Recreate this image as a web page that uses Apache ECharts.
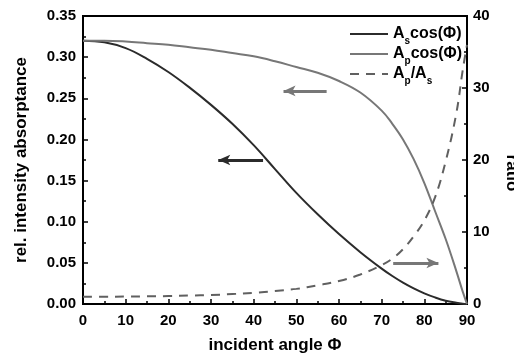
<!DOCTYPE html>
<html>
<head>
<meta charset="utf-8">
<script src="https://cdn.jsdelivr.net/npm/echarts@6/dist/echarts.min.js"></script>
<style>
  html, body { margin: 0; padding: 0; background: #fff; }
  #chart { width: 514px; height: 354px; }
</style>
</head>
<body>
<div id="chart"></div>
<script>
// incident angle (degrees)
const angles = [0, 5, 10, 15, 20, 25, 30, 35, 40, 45, 50, 55, 60, 65, 70, 72.5, 75, 77.5, 80, 82.5, 85, 87.5, 89, 90];
// relative intensity absorptance, s-polarisation
const asCos = [0.320, 0.318, 0.311, 0.298, 0.282, 0.263, 0.242, 0.219, 0.193, 0.164, 0.135, 0.109, 0.085, 0.063, 0.043, 0.034, 0.026, 0.019, 0.013, 0.008, 0.004, 0.0015, 0.0004, 0];
// relative intensity absorptance, p-polarisation
const apCos = [0.320, 0.320, 0.319, 0.317, 0.315, 0.312, 0.309, 0.305, 0.301, 0.295, 0.288, 0.281, 0.271, 0.257, 0.235, 0.219, 0.200, 0.176, 0.147, 0.113, 0.079, 0.040, 0.015, 0];
// ratio Ap/As
const ratio = [1.0, 1.0, 1.03, 1.06, 1.1, 1.17, 1.25, 1.38, 1.55, 1.8, 2.1, 2.6, 3.2, 4.1, 5.4, 6.3, 7.6, 9.4, 11.6, 14.8, 19.8, 26.5, 32.5, 36];

const pairs = (ys) => angles.map((a, i) => [a, ys[i]]);

// arrows telling which axis each curve belongs to: [fromX, toX, y]
const arrowAs = [42.2, 31.7, 0.175];
const arrowAp = [57.1, 47.0, 0.259];
const arrowRatio = [72.7, 83.3, 5.7];

const font = 'Liberation Sans, Arial, sans-serif';
const DARK = '#2b2b2b', GRAY = '#777777', DASH = '#606060';

function arrow(a, color) {
  return {
    silent: true,
    animation: false,
    symbol: ['none', 'arrow'],
    symbolSize: [8, 12],
    label: { show: false },
    lineStyle: { color: color, width: 3, type: 'solid' },
    emphasis: { disabled: true },
    data: [[{ coord: [a[0], a[2]] }, { coord: [a[1], a[2]] }]]
  };
}

const chart = echarts.init(document.getElementById('chart'), null, { renderer: 'canvas' });

const axisCommon = {
  axisLine: { show: true, lineStyle: { color: '#000', width: 2 } },
  axisTick: { show: true, inside: true, length: 5, lineStyle: { color: '#000', width: 1.5 } },
  minorTick: { show: true, splitNumber: 2, length: 3, lineStyle: { color: '#000', width: 1.5 } },
  splitLine: { show: false },
  axisLabel: { color: '#000', fontWeight: 'bold', fontSize: 15, fontFamily: font },
  nameTextStyle: { color: '#000', fontWeight: 'bold', fontSize: 17, fontFamily: font }
};

chart.setOption({
  backgroundColor: '#fff',
  animation: false,
  grid: {
    left: 83, right: 47, top: 16, bottom: 50,
    outerBoundsMode: 'none', containLabel: false,
    show: true, borderColor: '#000', borderWidth: 2, backgroundColor: 'transparent'
  },
  legend: {
    orient: 'vertical',
    left: 344,
    top: 21,
    itemWidth: 38,
    itemHeight: 12,
    itemGap: 0,
    itemStyle: { color: 'rgba(0,0,0,0)', borderColor: 'rgba(0,0,0,0)', borderWidth: 0 },
    data: ['as', 'ap', 'ratio'],
    formatter: function (name) {
      if (name === 'as') return '{m|A}{s|s}{m|cos(Φ)}';
      if (name === 'ap') return '{m|A}{s|p}{m|cos(Φ)}';
      return '{m|A}{s|p}{m|/A}{s|s}';
    },
    textStyle: {
      color: '#000',
      fontFamily: font,
      rich: {
        m: { fontSize: 16, fontWeight: 'bold', fontFamily: font, color: '#000', lineHeight: 24 },
        s: { fontSize: 10, fontWeight: 'bold', fontFamily: font, color: '#000', lineHeight: 10, verticalAlign: 'bottom' }
      }
    }
  },
  xAxis: Object.assign({}, axisCommon, {
    type: 'value', min: 0, max: 90, interval: 10,
    name: 'incident angle Φ', nameLocation: 'middle', nameGap: 33,
    axisLabel: Object.assign({}, axisCommon.axisLabel, { margin: 9 })
  }),
  yAxis: [
    Object.assign({}, axisCommon, {
      type: 'value', min: 0, max: 0.35, interval: 0.05, position: 'left',
      name: 'rel. intensity absorptance', nameLocation: 'middle', nameGap: 53, nameRotate: 90,
      axisLabel: Object.assign({}, axisCommon.axisLabel, { margin: 7, formatter: (v) => v.toFixed(2) })
    }),
    Object.assign({}, axisCommon, {
      type: 'value', min: 0, max: 40, interval: 10, position: 'right',
      name: 'ratio', nameLocation: 'middle', nameGap: 36, nameRotate: -90,
      nameTextStyle: Object.assign({}, axisCommon.nameTextStyle, { padding: [0, 0, 0, 26] }),
      axisLabel: Object.assign({}, axisCommon.axisLabel, { margin: 6 })
    })
  ],
  series: [
    {
      name: 'as', type: 'line', yAxisIndex: 0, data: pairs(asCos),
      symbol: 'none', smooth: 0.4,
      lineStyle: { color: DARK, width: 2 }, itemStyle: { color: DARK },
      markLine: arrow(arrowAs, DARK)
    },
    {
      name: 'ap', type: 'line', yAxisIndex: 0, data: pairs(apCos),
      symbol: 'none', smooth: 0.4,
      lineStyle: { color: GRAY, width: 2 }, itemStyle: { color: GRAY },
      markLine: arrow(arrowAp, GRAY)
    },
    {
      name: 'ratio', type: 'line', yAxisIndex: 1, data: pairs(ratio),
      symbol: 'none', smooth: 0.4,
      lineStyle: { color: DASH, width: 2, type: [9, 7] }, itemStyle: { color: DASH },
      markLine: arrow(arrowRatio, GRAY)
    }
  ]
});
</script>
</body>
</html>
